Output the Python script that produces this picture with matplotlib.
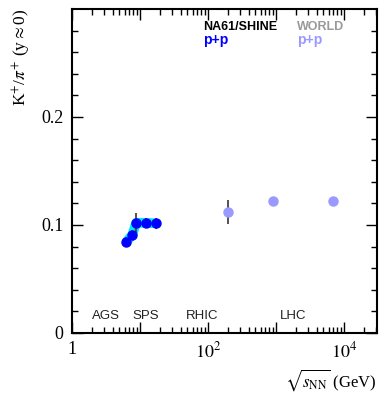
import matplotlib.pyplot as plt
import numpy as np

# NA61/SHINE p+p
na61_x = [6.3, 7.7, 8.8, 12.3, 17.3]
na61_y = [0.0843, 0.0907, 0.1020, 0.1020, 0.1015]
na61_err = [0.005, 0.005, 0.009, 0.004, 0.005]

# world p+p
world_x = [200, 900, 7000]
world_y = [0.112, 0.122, 0.122]
world_err = [0.011, 0.0, 0.0]

machines = ["AGS", "SPS", "RHIC", "LHC"]
machine_pos = [0.066, 0.197, 0.374, 0.68]

plt.rcParams['font.family'] = ['Liberation Serif', 'DejaVu Serif']
plt.rcParams['mathtext.fontset'] = 'stix'

fig = plt.figure(figsize=(3.84, 3.93), dpi=100)
ax = fig.add_axes([0.1875, 0.1527, 0.7945, 0.8245])

# systematic band + lines
ax.plot(na61_x, na61_y, color="#00e5ff", lw=7, solid_capstyle="butt", zorder=2)
ax.plot(na61_x[:3], np.array(na61_y[:3]) - 0.002, color="#33cc33", lw=1, zorder=2)
ax.errorbar(na61_x, na61_y, yerr=na61_err, fmt="o", color="blue", ecolor="#444444",
            ms=6.5, elinewidth=1.3, capsize=0, zorder=3)

ax.errorbar(world_x, world_y, yerr=world_err, fmt="o", color="#9999ff", ecolor="#444444",
            ms=6.5, elinewidth=1.3, capsize=0, zorder=3)

ax.set_xscale("log")
ax.set_xlim(1, 3.1e4)
ax.set_ylim(0, 0.3)

ax.set_xticks([1, 10, 100, 1000, 10000])
ax.set_xticklabels(["1", "", "$10^2$", "", "$10^4$"])
ax.xaxis.set_minor_locator(plt.matplotlib.ticker.LogLocator(base=10, subs=np.arange(2, 10)))
ax.xaxis.set_minor_formatter(plt.NullFormatter())
ax.set_yticks([0, 0.1, 0.2])
ax.set_yticklabels(["0", "0.1", "0.2"])
ax.set_yticks(np.arange(0, 0.3, 0.02), minor=True)

ax.tick_params(which="both", direction="in", top=True, right=True, labelsize=13, width=1.0)
ax.tick_params(which="major", length=8, pad=6)
ax.tick_params(which="minor", length=4)
for s in ax.spines.values():
    s.set_linewidth(1.5)

ax.set_ylabel(r"K$^{+}$/$\pi^{+}$ (y$\approx$0)", fontsize=12.5, loc="top", labelpad=6)
ax.set_xlabel(r"$\sqrt{s_{\rm NN}}$ (GeV)", fontsize=12, loc="right")

ax.text(0.43, 0.945, "NA61/SHINE", transform=ax.transAxes, fontsize=9, fontweight="bold",
        family="Liberation Sans", color="black", va="center")
ax.text(0.43, 0.905, "p+p", transform=ax.transAxes, fontsize=10, fontweight="bold",
        family="Liberation Sans", color="blue", va="center")
ax.text(0.738, 0.945, "WORLD", transform=ax.transAxes, fontsize=9, fontweight="bold",
        family="Liberation Sans", color="#999999", va="center")
ax.text(0.738, 0.905, "p+p", transform=ax.transAxes, fontsize=10, fontweight="bold",
        family="Liberation Sans", color="#9999ff", va="center")

for name, pos in zip(machines, machine_pos):
    ax.text(pos, 0.052, name, transform=ax.transAxes, fontsize=9.5,
            family="Liberation Sans", color="#222222", va="center")

fig.savefig("out.png", dpi=100)
